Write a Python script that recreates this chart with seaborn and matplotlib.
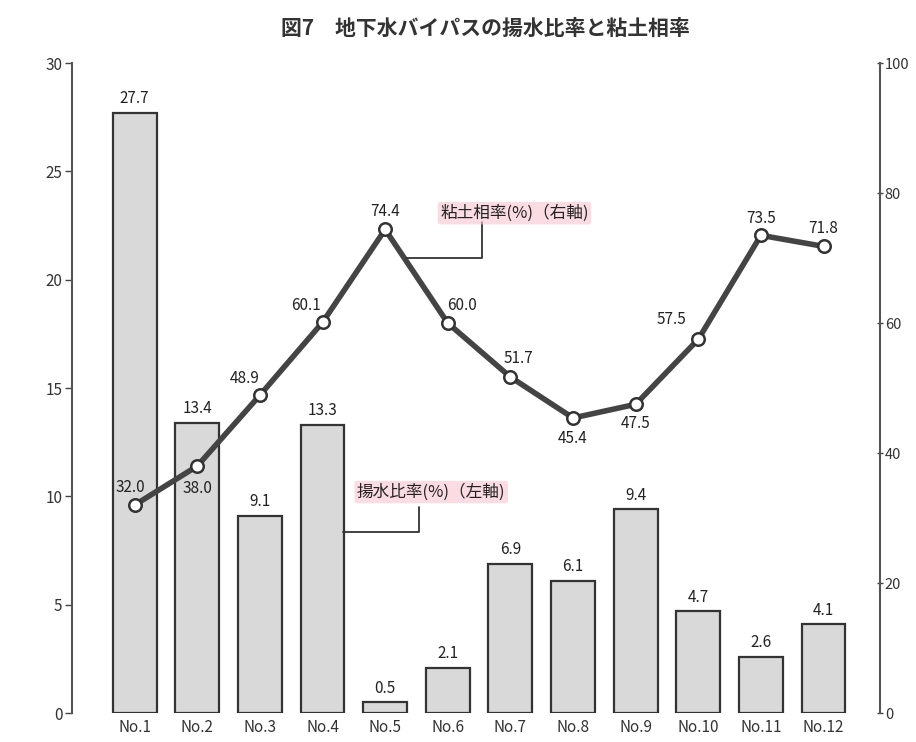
import matplotlib
matplotlib.use("Agg")
import matplotlib.pyplot as plt
import seaborn as sns
import pandas as pd
import numpy as np

categories = ["No.1", "No.2", "No.3", "No.4", "No.5", "No.6",
              "No.7", "No.8", "No.9", "No.10", "No.11", "No.12"]
pump_ratio = [27.7, 13.4, 9.1, 13.3, 0.5, 2.1, 6.9, 6.1, 9.4, 4.7, 2.6, 4.1]
clay_ratio = [32.0, 38.0, 48.9, 60.1, 74.4, 60.0, 51.7, 45.4, 47.5, 57.5, 73.5, 71.8]
left_ticks = [0, 5, 10, 15, 20, 25, 30]
right_ticks = [0, 20, 40, 60, 80, 100]
title = "図7　地下水バイパスの揚水比率と粘土相率"
bar_label_text = "揚水比率(%)（左軸)"
line_label_text = "粘土相率(%)（右軸)"

sns.set_theme(style="white")
plt.rcParams['font.family'] = ['Noto Sans CJK JP', 'DejaVu Sans']

df = pd.DataFrame({"cat": categories, "pump": pump_ratio, "clay": clay_ratio})

fig = plt.figure(figsize=(9.16, 7.42), dpi=100)
ax = fig.add_axes([0.0786, 0.039, 0.882, 0.876])
sns.barplot(data=df, x="cat", y="pump", ax=ax, color="#d9d9d9",
            edgecolor="#333333", linewidth=1.6, width=0.7, saturation=1)
ax.set_ylim(0, 30)
ax.set_xlim(-1.0, 11.9)
ax.set_yticks(left_ticks)
ax.set_xlabel("")
ax.set_ylabel("")
ax.tick_params(axis='y', length=5, width=1, color="#444444", labelsize=11,
               labelcolor="#333333", direction='out', pad=2, left=True)
ax.tick_params(axis='x', length=0, labelsize=11, labelcolor="#333333", pad=4)
for s in ["top", "bottom", "right"]:
    ax.spines[s].set_visible(False)
ax.spines["left"].set_color("#555555")
ax.spines["left"].set_linewidth(1.5)

for i, v in enumerate(pump_ratio):
    ax.text(i, v + 0.25, f"{v:.1f}", ha="center", va="bottom", fontsize=11,
            color="#222222")

ax2 = ax.twinx()
x = np.arange(len(categories))
sns.lineplot(x=x, y=clay_ratio, ax=ax2, color="#444444", linewidth=4,
             marker="o", markersize=9, markerfacecolor="white",
             markeredgecolor="#333333", markeredgewidth=1.8)
ax2.set_ylim(0, 100)
ax2.set_yticks(right_ticks)
ax2.set_ylabel("")
ax2.tick_params(axis='y', length=5, width=1, color="#444444", labelsize=10.5,
                labelcolor="#333333", direction='inout', pad=1, right=True)
for s in ["top", "bottom", "left"]:
    ax2.spines[s].set_visible(False)
ax2.spines["right"].set_color("#555555")
ax2.spines["right"].set_linewidth(1.5)
ax2.set_xlim(-1.0, 11.9)

offsets = [(-3, 13), (0, -16), (-11, 12), (-12, 12), (0, 13), (10, 13),
           (6, 13), (0, -15), (0, -14), (-19, 14), (0, 12), (0, 13)]
for i, v in enumerate(clay_ratio):
    dx, dy = offsets[i]
    ax2.annotate(f"{v:.1f}", (i, v), xytext=(dx, dy), textcoords="offset points",
                 ha="center", va="center", fontsize=11, color="#222222")

# leader for line label
ax2.plot([4.33, 5.54, 5.54], [70.0, 70.0, 75.5], color="#333333", lw=1.3)
ax2.text(4.88, 76.9, line_label_text, fontsize=12, color="#222222",
         va="center", ha="left",
         bbox=dict(boxstyle="round,pad=0.15", fc="#f7c6d0", ec="none", alpha=0.6))
# leader for bar label
ax.plot([3.33, 4.54, 4.54], [8.35, 8.35, 9.5], color="#333333", lw=1.3)
ax.text(3.55, 10.2, bar_label_text, fontsize=12, color="#222222",
        va="center", ha="left",
        bbox=dict(boxstyle="round,pad=0.15", fc="#f7c6d0", ec="none", alpha=0.6))

fig.text(0.53, 0.962, title, ha="center", va="center", fontsize=15,
         fontweight="bold", color="#333333")

fig.savefig("out.png", dpi=100, facecolor="white")
